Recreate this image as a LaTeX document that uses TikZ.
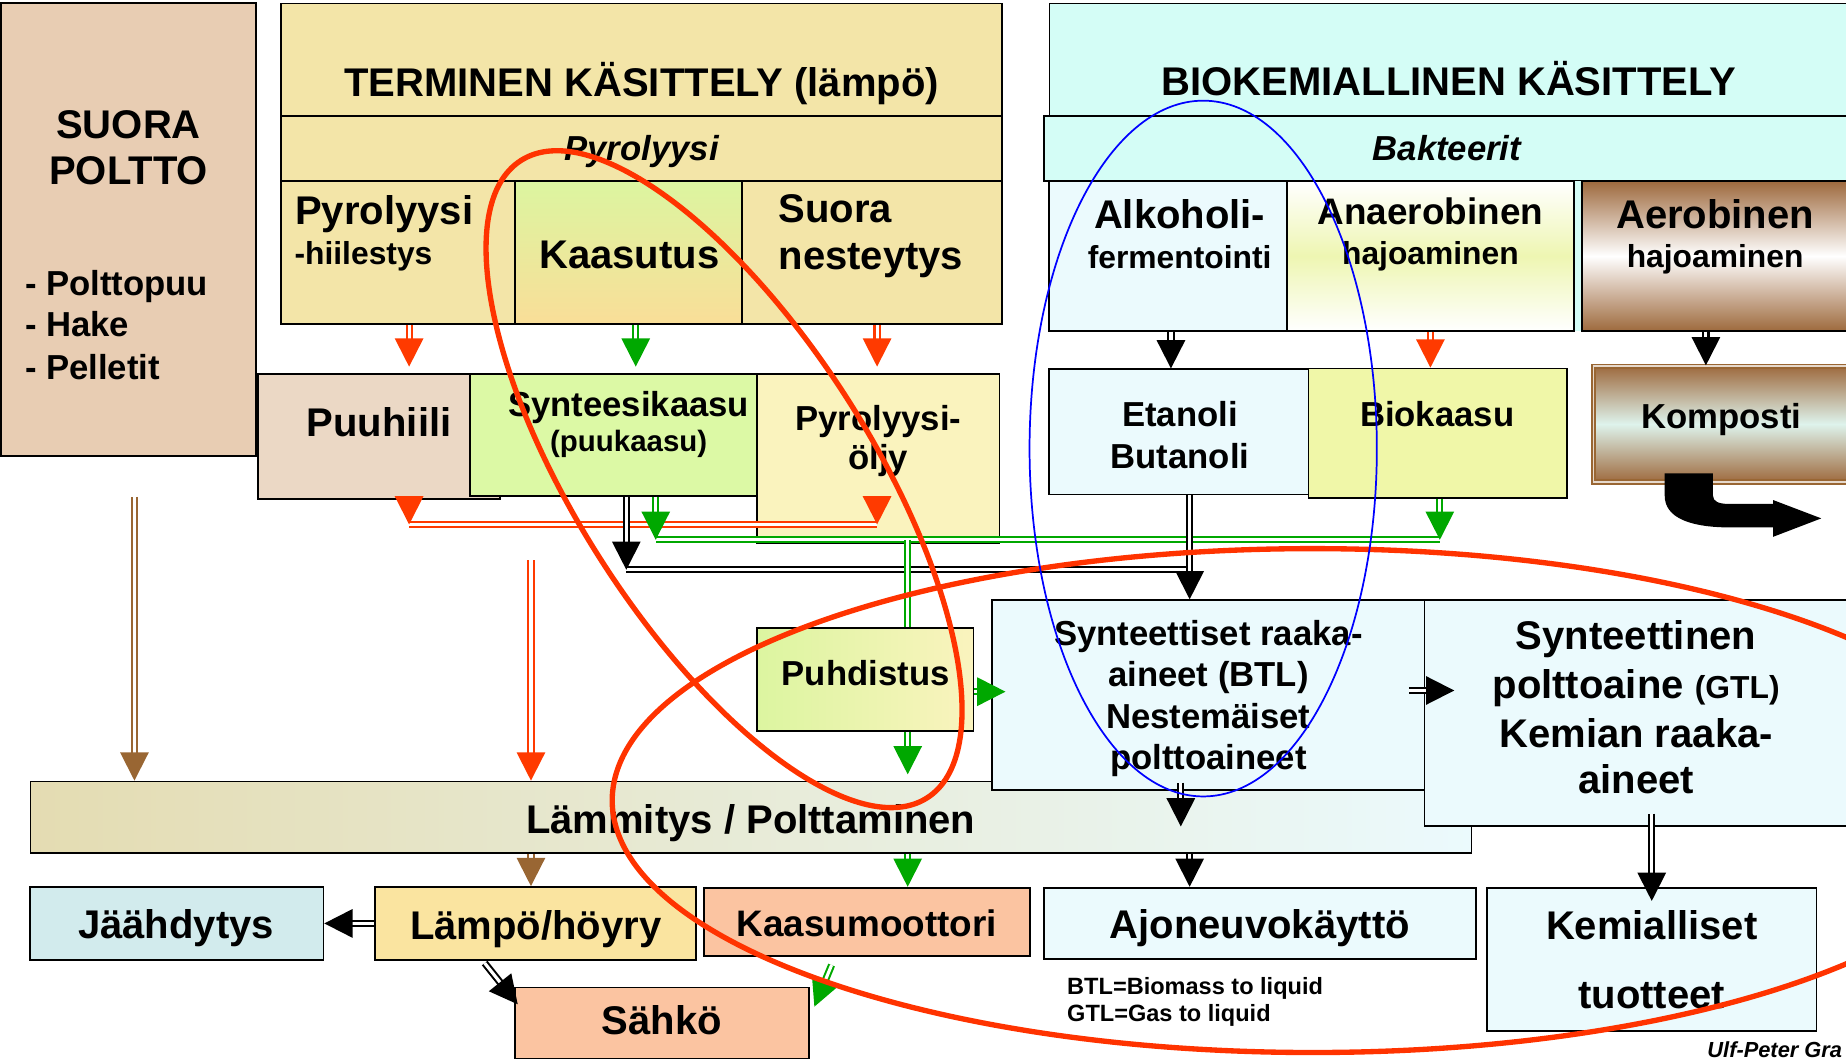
\documentclass[tikz,border=0pt]{standalone}
\usepackage{fontspec}
\setmainfont{Liberation Sans}
\usetikzlibrary{arrows.meta,fit,calc}

\definecolor{suoraC}{RGB}{232,205,179}
\definecolor{thermC}{RGB}{243,229,168}
\definecolor{puuC}{RGB}{235,216,197}
\definecolor{synC}{RGB}{220,249,165}
\definecolor{oljyC}{RGB}{250,243,190}
\definecolor{bioC}{RGB}{212,253,246}
\definecolor{paleC}{RGB}{235,250,253}
\definecolor{biokC}{RGB}{240,247,168}
\definecolor{anaeC}{RGB}{238,246,178}
\definecolor{aerC}{RGB}{158,106,62}
\definecolor{kompC}{RGB}{222,243,236}
\definecolor{jaaC}{RGB}{210,235,237}
\definecolor{lampoC}{RGB}{250,228,160}
\definecolor{peachC}{RGB}{251,196,161}
\definecolor{kgreenC}{RGB}{220,245,160}
\definecolor{korangeC}{RGB}{249,222,152}
\definecolor{barC}{RGB}{228,220,178}
\definecolor{brownC}{RGB}{153,102,51}
\definecolor{redC}{RGB}{255,58,0}
\definecolor{greenC}{RGB}{0,168,0}
\definecolor{ringC}{RGB}{255,51,0}
\definecolor{blueC}{RGB}{0,0,255}

\tikzset{every picture/.style={line width=0.75pt}}
\tikzset{
  box/.style={draw, line width=1.1pt, inner sep=0pt},
  dflow/.style={draw=#1, double=white, double distance=2pt, line width=1.3pt, -{Triangle[length=18pt,width=18pt]}},
  dbus/.style={draw=#1, double=white, double distance=2pt, line width=1.3pt},
  lblA/.style={inner sep=0pt, anchor=base, font=\fontsize{25.5}{30}\selectfont\bfseries},
  lblB/.style={inner sep=0pt, anchor=base, font=\fontsize{23.5}{28}\selectfont\bfseries},
  lblC/.style={inner sep=0pt, anchor=base, font=\fontsize{22.1}{26}\selectfont\bfseries},
  lblD/.style={inner sep=0pt, anchor=base, font=\fontsize{20.25}{24}\selectfont\bfseries},
  lblE/.style={inner sep=0pt, anchor=base, font=\fontsize{18.75}{22}\selectfont\bfseries},
  note/.style={inner sep=0pt, anchor=base west, font=\fontsize{15}{18}\selectfont\bfseries},
  loopline/.style={draw=#1, line width=3.4pt},
}

\begin{document}
\begin{tikzpicture}[x=0.75pt,y=0.75pt,yscale=-1,xscale=1]
\useasboundingbox (0,0) rectangle (1568,900);
\clip (0,0) rectangle (1568,900);

% bus points and arrow columns
\coordinate (rbusL) at (347.5,445.5);
\coordinate (rbusR) at (745,445.5);
\coordinate (kbusL) at (532,484);
\coordinate (kbusR) at (1010.5,484);
\coordinate (gbusL) at (557,458.5);
\coordinate (gbusR) at (1223,458.5);
\coordinate (gdrop) at (771,458.5);
\coordinate (xkaas) at (540,0);
\coordinate (xalk) at (994.6,0);
\coordinate (xanae) at (1215,0);
\coordinate (xaer) at (1449,0);
\coordinate (brownstart) at (114.2,422);
\coordinate (redstart) at (451,476);
\coordinate (nrow) at (0,587.5);
\coordinate (qtip) at (1003,702);

%Shape: Suora poltto
\node[box, fill=suoraC, fit={(1,2.8) (217.6,387.3)}] (suora) {};
% Text Node
\node[lblA] (t-suora1) at (109.2,117.5) {SUORA};
\node[lblA] (t-suora2) at (109.2,157.1) {POLTTO};
\node[lblC, anchor=base west] (t-list1) at (20.8,250.6) {- Polttopuu};
\node[lblC, anchor=base west] (t-list2) at (20.8,286) {- Hake};
\node[lblC, anchor=base west] (t-list3) at (20.8,322) {- Pelletit};

%Shape: Terminen kasittely
\node[box, fill=thermC, fit={(238.5,3) (851,98.5)}] (termhead) {};
\node[box, fill=thermC, fit={(238.5,98.5) (851,153.7)}] (pyrorow) {};
\node[box, fill=thermC, fit={(238.5,153.7) (437.7,275.2)}] (pyrohiil) {};
\node[box, top color=kgreenC, bottom color=korangeC, fit={(437.7,153.7) (630,275.2)}] (kaasutus) {};
\node[box, fill=thermC, fit={(630,153.7) (851,275.2)}] (nesteytys) {};
% Text Node
\node[lblA] (t-term) at (545,82) {TERMINEN KÄSITTELY (lämpö)};
\node[lblC, font=\fontsize{22.1}{26}\selectfont\bfseries\itshape] (t-pyrorow) at (545,136) {Pyrolyysi};
\node[lblA, anchor=base west] (t-pyro1) at (250.2,191) {Pyrolyysi};
\node[lblD, anchor=base west] (t-pyro2) at (249.7,225) {-hiilestys};
\node[lblA] (t-kaas) at (534.6,228) {Kaasutus};
\node[lblA, anchor=base west] (t-nest1) at (660.8,189) {Suora};
\node[lblA, anchor=base west] (t-nest2) at (660.8,229) {nesteytys};

%Shape: Terminen products
\node[box, fill=puuC, fit={(219,317.5) (425,424)}] (puuhiili) {};
\node[box, fill=synC, fit={(399,317.5) (643,421)}] (synkaasu) {};
\node[box, fill=oljyC, fit={(643,317.5) (849,461)}] (pyroljy) {};
% Text Node
\node[lblA] (t-puu) at (322,371) {Puuhiili};
\node[lblC] (t-syn1) at (534,354) {Synteesikaasu};
\node[lblE] (t-syn2) at (534,383.7) {(puukaasu)};
\node[lblC] (t-olj1) at (746.1,365.3) {Pyrolyysi-};
\node[lblC] (t-olj2) at (746.1,399.2) {öljy};

%Shape: Biokemiallinen kasittely
\node[box, fill=bioC, fit={(891.5,3) (1570,98.5)}] (biohead) {};
\node[box, fill=bioC, fit={(886.8,98.5) (1570,154)}] (bakteerit) {};
\fill[bioC] (1337,154) rectangle (1344,281);
\node[box, fill=paleC, fit={(891,154) (1093,281)}] (alkoholi) {};
\node[box, top color=white, bottom color=white, middle color=anaeC, fit={(1093,154) (1337,281)}] (anaerob) {};
\node[box, top color=aerC, bottom color=aerC, middle color=white, fit={(1343.7,154) (1570,281)}] (aerob) {};
% Text Node
\node[lblA] (t-bio) at (1230.5,81) {BIOKEMIALLINEN KÄSITTELY};
\node[lblC, font=\fontsize{22.1}{26}\selectfont\bfseries\itshape] (t-bakt) at (1229,136.5) {Bakteerit};
\node[lblA] (t-alk1) at (1002,194) {Alkoholi-};
\node[lblD] (t-alk2) at (1002,228) {fermentointi};
\node[lblB] (t-ana1) at (1215,191) {Anaerobinen};
\node[lblD] (t-ana2) at (1215,224.5) {hajoaminen};
\node[lblA] (t-aer1) at (1456.8,194) {Aerobinen};
\node[lblD] (t-aer2) at (1456.8,227.5) {hajoaminen};

%Shape: Bio products
\node[box, fill=paleC, fit={(891,313.7) (1111.5,420)}] (etanoli) {};
\node[box, fill=biokC, fit={(1111.5,313) (1331,423)}] (biokaasu) {};
\node[box, draw=brownC, double=white!75!brownC, double distance=1.2pt, line width=1pt, top color=aerC, bottom color=aerC, middle color=kompC, fit={(1353.5,311) (1570,409.4)}] (komposti) {};
% Text Node
\node[lblC] (t-eta1) at (1002.3,362.4) {Etanoli};
\node[lblC] (t-eta2) at (1002.3,397.8) {Butanoli};
\node[lblC] (t-biok) at (1220.7,362) {Biokaasu};
\node[lblC] (t-komp) at (1462,364) {Komposti};

%Shape: Bent arrow
\fill[black] (1414,402) -- (1455,402) -- (1455,421) .. controls (1455,426) and (1460,428) .. (1468,428) -- (1506,428) -- (1506,424.7) -- (1547,440.3) -- (1506,456) -- (1506,448) -- (1470,448) .. controls (1436,448) and (1414,440) .. (1414,421) -- cycle;

%Shape: Middle part
\node[box, left color=kgreenC, right color=oljyC, fit={(643,533.5) (827,621)}] (puhdistus) {};
\node[box, left color=barC, right color=paleC, fit={(26,663.8) (1250,724.5)}] (lammitys) {};
\node[box, fill=paleC, fit={(842.8,509.8) (1210,671)}] (syntraaka) {};
\node[box, fill=paleC, fit={(1210,509.6) (1570,701.3)}] (syntpoltto) {};
% Text Node
\node[lblC] (t-puhd) at (735.3,582) {Puhdistus};
\node[lblA] (t-lamm) at (637.7,707.8) {Lämmitys / Polttaminen};
\node[lblC] (t-sr1) at (1026.4,547.9) {Synteettiset raaka-};
\node[lblC] (t-sr2) at (1026.4,582.7) {aineet (BTL)};
\node[lblC] (t-sr3) at (1026.4,618.7) {Nestemäiset};
\node[lblC] (t-sr4) at (1026.4,654) {polttoaineet};
\node[lblA] (t-sp1) at (1389.7,552) {Synteettinen};
\node[lblA] (t-sp2) at (1389.7,593) {polttoaine {\fontsize{20.25}{24}\selectfont(GTL)}};
\node[lblA] (t-sp3) at (1389.7,634.7) {Kemian raaka-};
\node[lblA] (t-sp4) at (1389.7,674) {aineet};

%Shape: End uses
\node[box, fill=jaaC, fit={(25.2,753.4) (274.7,815.3)}] (jaahdytys) {};
\node[box, fill=lampoC, fit={(318.4,753.4) (591,815.3)}] (lampo) {};
\node[box, fill=peachC, fit={(598,754) (874.7,812)}] (kaasumoot) {};
\node[box, fill=paleC, fit={(886.8,754) (1253.7,814.6)}] (ajoneuvo) {};
\node[box, fill=paleC, fit={(1263,754) (1543,876)}] (kemial) {};
\node[box, fill=peachC, fit={(437.5,838.8) (687,899)}] (sahko) {};
% Text Node
\node[lblA] (t-jaa) at (149.5,797.3) {Jäähdytys};
\node[lblA] (t-lampo) at (455,797.9) {Lämpö/höyry};
\node[lblB] (t-kaasm) at (736.3,795.6) {Kaasumoottori};
\node[lblA] (t-ajon) at (1070,797.3) {Ajoneuvokäyttö};
\node[lblA] (t-kem1) at (1403,798) {Kemialliset};
\node[lblA] (t-kem2) at (1403,857) {tuotteet};
\node[lblA] (t-sahko) at (562.3,879) {Sähkö};
\node[note] (t-btl) at (906,844.5) {BTL=Biomass to liquid};
\node[note] (t-gtl) at (906,868) {GTL=Gas to liquid};
\node[note, font=\fontsize{13.9}{16}\selectfont\bfseries\itshape] (t-author) at (1449.8,898) {Ulf-Peter Gra};

%Straight Lines: process to product
\draw[dflow=redC, shorten >=4pt] (pyrohiil.south -| rbusL) -- (puuhiili.north -| rbusL);
\draw[dflow=greenC, shorten >=4pt] (kaasutus.south -| xkaas) -- (synkaasu.north -| xkaas);
\draw[dflow=redC, shorten >=4pt] (nesteytys.south -| rbusR) -- (pyroljy.north -| rbusR);
\draw[dflow=black] (alkoholi.south -| xalk) -- (etanoli.north -| xalk);
\draw[dflow=redC] (anaerob.south -| xanae) -- (biokaasu.north -| xanae);
\draw[dflow=black] (aerob.south -| xaer) -- (komposti.north -| xaer);

%Straight Lines: collecting lines
\draw[dbus=redC] (rbusL) -- (rbusR);
\draw[dbus=greenC] (gbusL) -- (gbusR);
\draw[dbus=black] (kbusL) -- (kbusR);
\draw[dflow=redC] (puuhiili.south -| rbusL) -- (rbusL);
\draw[dflow=redC] ($(rbusR)+(0,-23)$) -- (rbusR);
\draw[dflow=black] (synkaasu.south -| kbusL) -- (kbusL);
\draw[dflow=greenC] (synkaasu.south -| gbusL) -- (gbusL);
\draw[dflow=greenC] (biokaasu.south -| gbusR) -- (gbusR);
\draw[dflow=black] (etanoli.south -| kbusR) -- (syntraaka.north -| kbusR);
\draw[dbus=greenC] (gdrop) -- (puhdistus.north -| gdrop);

%Straight Lines: cleaning and synthesis
\draw[dflow=greenC] (puhdistus.east |- nrow) -- ($(syntraaka.west |- nrow)+(12,0)$);
\draw[dflow=greenC, shorten >=4pt] (puhdistus.south -| gdrop) -- (lammitys.north -| gdrop);
\draw[dflow=black] ($(syntraaka.east |- nrow)+(-14,-1)$) -- ($(syntpoltto.west |- nrow)+(26,-1)$);
\draw[dflow=black] ($(syntraaka.south -| qtip)+(0,-7)$) -- (qtip);
\draw[dflow=black] ($(syntpoltto.south -| kemial.north)+(0,-11)$) -- ($(kemial.north)+(0,12)$);

%Straight Lines: heating and end uses
\draw[dflow=brownC] (brownstart) -- (lammitys.north -| brownstart);
\draw[dflow=redC] (redstart) -- (lammitys.north -| redstart);
\draw[dflow=brownC] (lammitys.south -| redstart) -- (lampo.north -| redstart);
\draw[dflow=greenC] (lammitys.south -| gdrop) -- (kaasumoot.north -| gdrop);
\draw[dflow=black] (lammitys.south -| kbusR) -- (ajoneuvo.north -| kbusR);
\draw[dflow=black] (lampo.west) -- (jaahdytys.east);
\draw[dflow=black] ($(lampo.south)+(-43,2)$) -- ($(sahko.north west)+(3,15)$);
\draw[dflow=greenC] ($(kaasumoot.south)+(-30,7)$) -- ($(sahko.north east)+(4,17)$);

%Shape: Ellipses
\draw[loopline=ringC, rotate around={57.5:(615,407)}] (615,407) ellipse [x radius=321, y radius=125];
\draw[loopline=ringC] (1115,680) ellipse [x radius=595, y radius=214];
\draw[draw=blueC, line width=1.1pt] (1022,381) ellipse [x radius=147.5, y radius=295.5];

\end{tikzpicture}
\end{document}
